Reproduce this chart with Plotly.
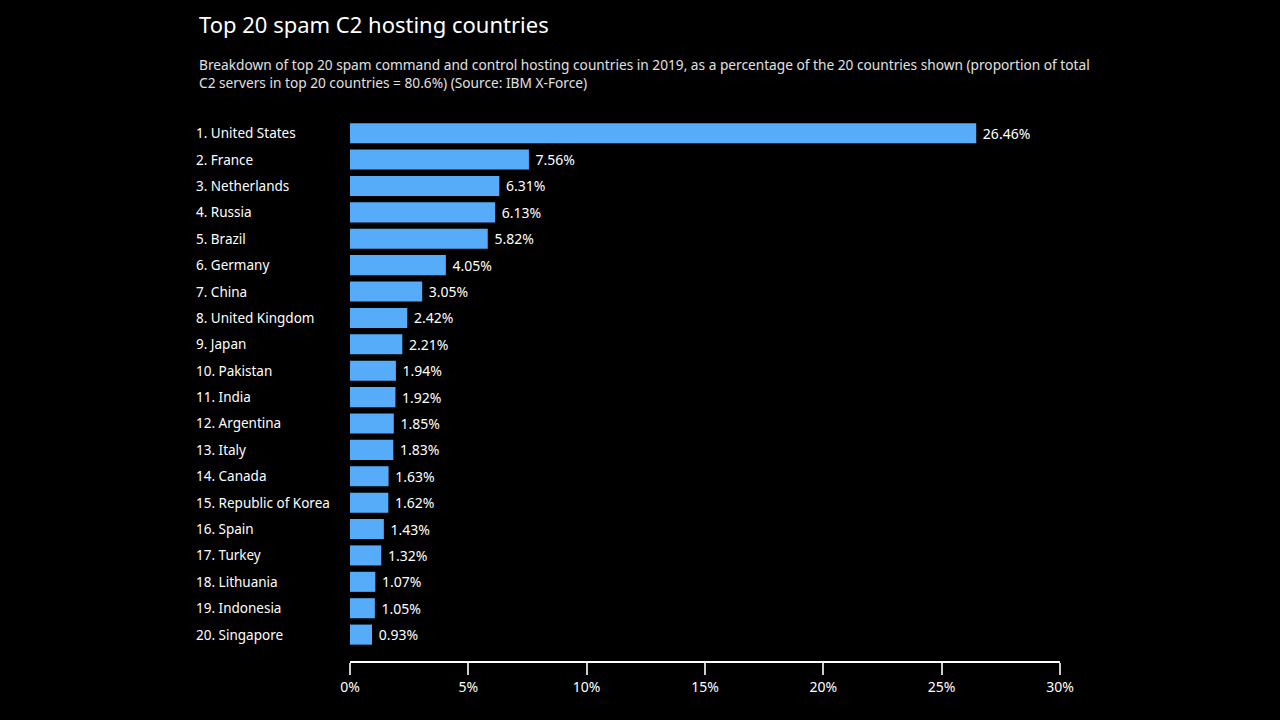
import plotly.graph_objects as go

countries = [
    "United States", "France", "Netherlands", "Russia", "Brazil",
    "Germany", "China", "United Kingdom", "Japan", "Pakistan",
    "India", "Argentina", "Italy", "Canada", "Republic of Korea",
    "Spain", "Turkey", "Lithuania", "Indonesia", "Singapore",
]
shares = [
    26.46, 7.56, 6.31, 6.13, 5.82,
    4.05, 3.05, 2.42, 2.21, 1.94,
    1.92, 1.85, 1.83, 1.63, 1.62,
    1.43, 1.32, 1.07, 1.05, 0.93,
]
tick_vals = [0, 5, 10, 15, 20, 25, 30]

labels = [f"{i + 1}. {c}" for i, c in enumerate(countries)]
FONT = "Noto Sans"
BAR = "#56acf8"

fig = go.Figure(
    go.Bar(
        x=shares,
        y=labels,
        orientation="h",
        marker=dict(color=BAR, line=dict(width=0)),
        text=[f"\u00a0{v:.2f}%" for v in shares],
        textposition="outside",
        textfont=dict(color="white", size=14, family=FONT),
        cliponaxis=False,
        hoverinfo="skip",
    )
)

# left-aligned category labels
for lab in labels:
    fig.add_annotation(
        x=-0.2197, y=lab, xref="paper", yref="y",
        text=lab, showarrow=False, xanchor="left",
        font=dict(color="white", size=13.5, family=FONT),
    )

fig.add_annotation(
    x=-0.2155, y=1.209, xref="paper", yref="paper",
    text="Top 20 spam C2 hosting countries",
    showarrow=False, xanchor="left", yanchor="top",
    font=dict(color="white", size=22, family=FONT),
)
fig.add_annotation(
    x=-0.2155, y=1.124, xref="paper", yref="paper",
    text=("Breakdown of top 20 spam command and control hosting countries in 2019, "
          "as a percentage of the 20 countries shown (proportion of total<br>"
          "C2 servers in top 20 countries = 80.6%) (Source: IBM X-Force)"),
    showarrow=False, xanchor="left", yanchor="top", align="left",
    font=dict(color="#e0e0e0", size=13.7, family=FONT),
)

fig.update_layout(
    width=1280, height=720,
    paper_bgcolor="black", plot_bgcolor="black",
    margin=dict(l=350, r=220, t=120, b=59),
    bargap=0.24,
    showlegend=False,
    font=dict(family=FONT, color="white"),
    xaxis=dict(
        range=[0, 30], tickvals=tick_vals,
        ticktext=[f"{v}%" for v in tick_vals],
        showgrid=False, zeroline=False,
        showline=True, linecolor="white", linewidth=2,
        ticks="outside", ticklen=12, tickwidth=2, tickcolor="#cccccc",
        tickfont=dict(size=14, color="white", family=FONT),
        fixedrange=True,
    ),
    yaxis=dict(
        range=[20.0, -0.5], showticklabels=False,
        showgrid=False, zeroline=False, showline=False, ticks="",
        fixedrange=True,
    ),
)

fig.write_html(
    "out.html",
    config={"displayModeBar": False},
    post_script="document.body.style.margin='0';document.body.style.background='black';",
)
